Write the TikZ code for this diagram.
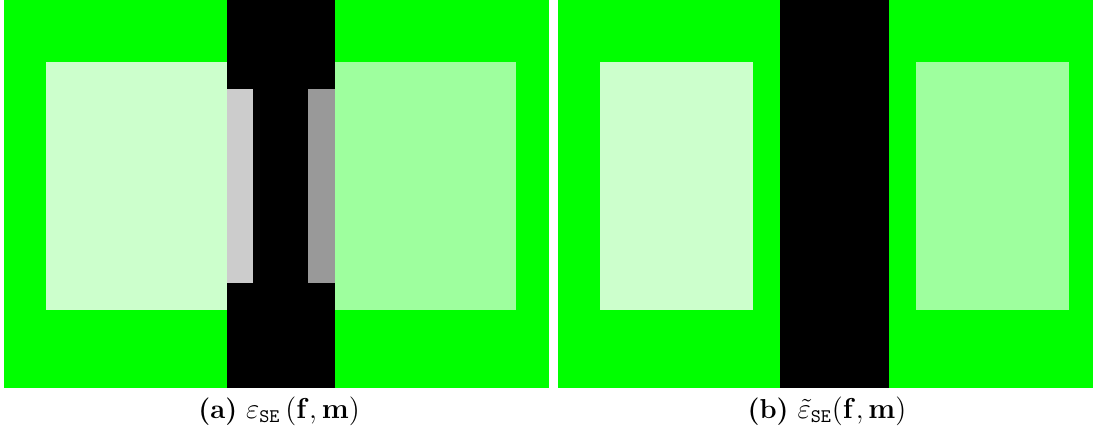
\documentclass[tikz,border=0pt]{standalone}
\usepackage{amsmath}
\definecolor{pgreen}{HTML}{00FF00}
\definecolor{lgreen}{HTML}{CCFFCC}
\definecolor{mgreen}{HTML}{9EFF9E}
\definecolor{lgray}{HTML}{CCCCCC}
\definecolor{dgray}{HTML}{999999}
\tikzset{captext/.style={font=\fontsize{13.7}{16}\selectfont, inner sep=0pt, anchor=center}}
\begin{document}
\begin{tikzpicture}[x=0.5pt,y=-0.5pt]
\useasboundingbox (0,0) rectangle (1093,441);
% panel (a)
\fill[pgreen] (4,0) rectangle (549,388);
\fill[lgreen] (46,62) rectangle (227,310);
\fill[mgreen] (335,62) rectangle (516,310);
\fill[black] (227,0) rectangle (335,388);
\fill[lgray] (227,89) rectangle (253,283);
\fill[dgray] (308,89) rectangle (335,283);
% panel (b)
\fill[pgreen] (558,0) rectangle (1093,388);
\fill[lgreen] (600,62) rectangle (753,310);
\fill[mgreen] (916,62) rectangle (1069,310);
\fill[black] (780,0) rectangle (889,388);
% captions
\node[captext] (capa) at (279,411) {\textbf{(a)}\ $\varepsilon_{\texttt{SE}}\,(\mathbf{f},\mathbf{m})$};
\node[captext] (capb) at (827,411) {\textbf{(b)}\ $\tilde{\varepsilon}_{\texttt{SE}}(\mathbf{f},\mathbf{m})$};
\end{tikzpicture}
\end{document}
